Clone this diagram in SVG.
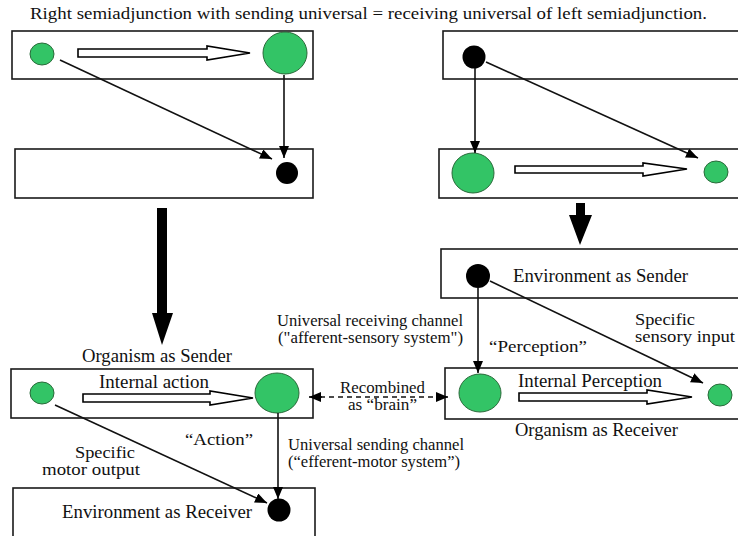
<svg xmlns="http://www.w3.org/2000/svg" width="738" height="536" viewBox="0 0 738 536" font-family="'Liberation Serif', 'DejaVu Serif', 'Times New Roman', serif">
<style>
  .box { fill: #fff; stroke: #1a1a1a; stroke-width: 1.6; }
  .g { fill: #33c466; stroke: #2a6a3a; stroke-width: 1; }
  .k { fill: #000; }
  .hol { fill: #fff; stroke: #000; stroke-width: 1.6; stroke-linejoin: miter; }
  .big { fill: #000; }
  .ln { fill: none; stroke: #111; stroke-width: 1.6; }
  .dash { fill: none; stroke: #111; stroke-width: 1.4; stroke-dasharray: 5 4; }
  text { font-family: 'Liberation Serif', 'DejaVu Serif', 'Times New Roman', serif; fill: #111; }
  .t18 { font-size: 18px; }
  .t16 { font-size: 16px; }
  .title { font-size: 16.5px; }
</style>
<defs>
  <marker id="ah" viewBox="0 0 12 10" refX="12" refY="5" markerWidth="12" markerHeight="10" markerUnits="userSpaceOnUse" orient="auto-start-reverse">
    <path d="M0,0 L12,5 L0,10 Z" fill="#000"/>
  </marker>
</defs>
<rect width="738" height="536" fill="#fff"/>

<text class="title" x="30" y="19" textLength="677" lengthAdjust="spacingAndGlyphs">Right semiadjunction with sending universal = receiving universal of left semiadjunction.</text>

<g id="tl-sender">
  <rect class="box" x="12" y="31" width="301" height="48"/>
  <ellipse class="g" cx="42" cy="54" rx="12" ry="11"/>
  <ellipse class="g" cx="285" cy="53" rx="22" ry="21"/>
  <polygon class="hol" points="78,49 207,49 207,46 250,53 207,60 207,57 78,57"/>
</g>

<g id="tl-receiver">
  <rect class="box" x="15" y="149" width="298" height="49"/>
  <circle class="k" cx="287" cy="173" r="11"/>
</g>

<g id="tr-sender">
  <rect class="box" x="443" y="31" width="300" height="48"/>
  <circle class="k" cx="474" cy="57" r="11.5"/>
</g>

<g id="tr-receiver">
  <rect class="box" x="439" y="149" width="304" height="49"/>
  <ellipse class="g" cx="473" cy="173" rx="21" ry="20"/>
  <polygon class="hol" points="515,166 643,166 643,163 687,169 643,176 643,173 515,173"/>
  <ellipse class="g" cx="716" cy="172" rx="12" ry="11"/>
</g>

<g id="env-sender">
  <rect class="box" x="441" y="249" width="302" height="49"/>
  <circle class="k" cx="478" cy="276" r="12"/>
  <text class="t18" x="513" y="282" textLength="175" lengthAdjust="spacingAndGlyphs">Environment as Sender</text>
</g>

<g id="org-receiver">
  <rect class="box" x="445" y="368" width="298" height="51"/>
  <ellipse class="g" cx="480" cy="393" rx="21" ry="19"/>
  <polygon class="hol" points="519,393 647,393 647,390 692,397 647,404 647,401 519,401"/>
  <ellipse class="g" cx="720" cy="395" rx="12" ry="11"/>
  <text class="t18" x="518" y="387" textLength="144" lengthAdjust="spacingAndGlyphs">Internal Perception</text>
  <text class="t18" x="515" y="436" textLength="163" lengthAdjust="spacingAndGlyphs">Organism as Receiver</text>
</g>

<g id="org-sender">
  <rect class="box" x="11" y="369" width="302" height="49"/>
  <ellipse class="g" cx="42" cy="393" rx="12" ry="11"/>
  <ellipse class="g" cx="277" cy="393" rx="22" ry="20"/>
  <polygon class="hol" points="83,394 210,394 210,391 253,398 210,405 210,402 83,402"/>
  <text class="t18" x="99" y="388" textLength="110" lengthAdjust="spacingAndGlyphs">Internal action</text>
  <text class="t18" x="82" y="362" textLength="150" lengthAdjust="spacingAndGlyphs">Organism as Sender</text>
</g>

<g id="env-receiver">
  <rect class="box" x="13" y="488" width="302" height="60"/>
  <circle class="k" cx="279" cy="510" r="11.5"/>
  <text class="t18" x="62" y="518" textLength="190" lengthAdjust="spacingAndGlyphs">Environment as Receiver</text>
</g>

<g id="connectors">
  <line class="ln" x1="60" y1="60" x2="272" y2="159" marker-end="url(#ah)"/>
  <line class="ln" x1="284" y1="75" x2="284" y2="158" marker-end="url(#ah)"/>
  <line class="ln" x1="475" y1="68" x2="475" y2="153" stroke-width="2" marker-end="url(#ah)"/>
  <line class="ln" x1="486" y1="62" x2="698" y2="158" marker-end="url(#ah)"/>
  <polygon class="big" points="157,208 167,208 167,313 173,313 162,345 152,313 157,313"/>
  <polygon class="big" points="576,203 585,203 585,215 592,215 580,245 569,215 576,215"/>
  <line class="ln" x1="478" y1="288" x2="478" y2="373" marker-end="url(#ah)"/>
  <line class="ln" x1="490" y1="281" x2="703" y2="383" marker-end="url(#ah)"/>
  <line class="dash" x1="320" y1="397" x2="438" y2="397"/>
  <line class="ln" x1="322" y1="397" x2="309" y2="397" marker-end="url(#ah)"/>
  <line class="ln" x1="436" y1="397" x2="448" y2="397" marker-end="url(#ah)"/>
  <line class="ln" x1="278" y1="413" x2="278" y2="499" marker-end="url(#ah)"/>
  <line class="ln" x1="55" y1="405" x2="267" y2="503" marker-end="url(#ah)"/>
</g>

<g id="labels">
  <text class="t16" x="635" y="325" textLength="60" lengthAdjust="spacingAndGlyphs">Specific</text>
  <text class="t16" x="635" y="342" textLength="100" lengthAdjust="spacingAndGlyphs">sensory input</text>
  <text class="t16" x="489" y="352" textLength="98" lengthAdjust="spacingAndGlyphs">“Perception”</text>
  <text class="t16" x="277" y="326" textLength="186" lengthAdjust="spacingAndGlyphs">Universal receiving channel</text>
  <text class="t16" x="278" y="343" textLength="185" lengthAdjust="spacingAndGlyphs">("afferent-sensory system")</text>
  <text class="t16" x="340" y="393" textLength="85" lengthAdjust="spacingAndGlyphs">Recombined</text>
  <text class="t16" x="348" y="410" textLength="69" lengthAdjust="spacingAndGlyphs">as “brain”</text>
  <text class="t16" x="288" y="450" textLength="176" lengthAdjust="spacingAndGlyphs">Universal sending channel</text>
  <text class="t16" x="288" y="467" textLength="172" lengthAdjust="spacingAndGlyphs">(“efferent-motor system”)</text>
  <text class="t16" x="185" y="445" textLength="68" lengthAdjust="spacingAndGlyphs">“Action”</text>
  <text class="t16" x="75" y="458" textLength="60" lengthAdjust="spacingAndGlyphs">Specific</text>
  <text class="t16" x="42" y="475" textLength="98" lengthAdjust="spacingAndGlyphs">motor output</text>
</g>
</svg>
